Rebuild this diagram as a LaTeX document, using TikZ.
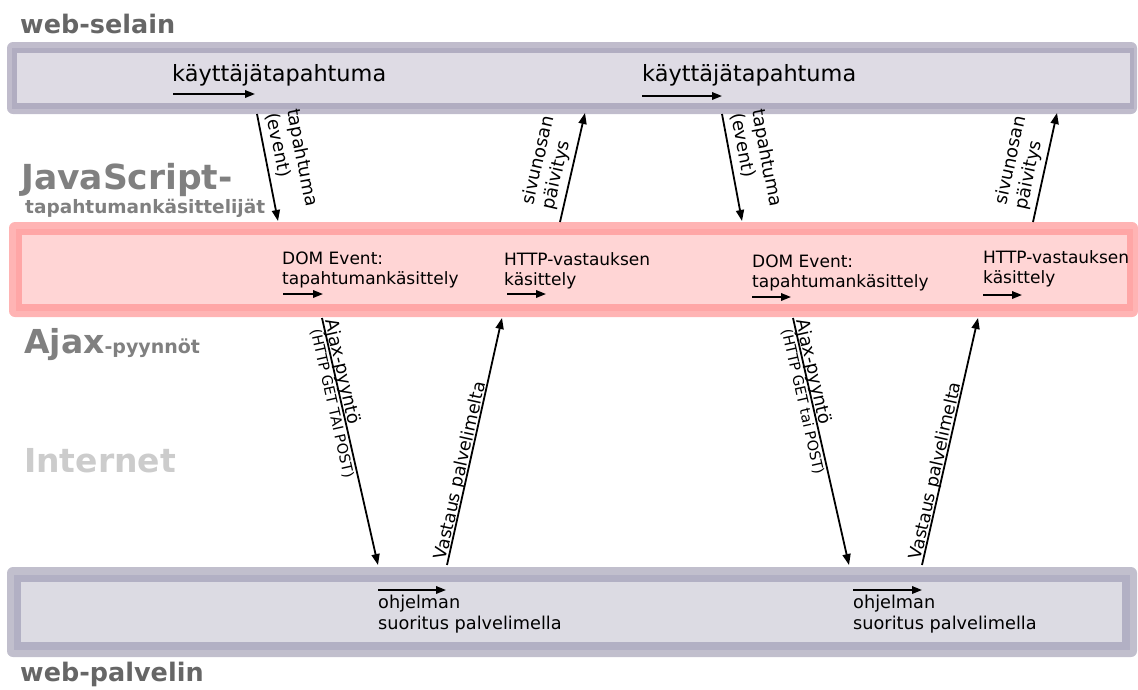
\documentclass[tikz,border=0pt]{standalone}
\usepackage{fontspec}
\setmainfont{DejaVu Sans}
\usetikzlibrary{arrows.meta}
\definecolor{selOuter}{HTML}{C0BCCC}
\definecolor{selBand}{HTML}{B1ADC1}
\definecolor{selFill}{HTML}{DEDBE4}
\definecolor{redOuter}{HTML}{FFB4B4}
\definecolor{redBand}{HTML}{FFA6A6}
\definecolor{redFill}{HTML}{FFD5D5}
\definecolor{srvOuter}{HTML}{C1BFCD}
\definecolor{srvBand}{HTML}{B2B0C4}
\definecolor{srvFill}{HTML}{DCDBE3}
\definecolor{headDark}{HTML}{666666}
\definecolor{headMid}{HTML}{808080}
\definecolor{headLight}{HTML}{CCCCCC}
\newcommand\myfs[2]{\fontsize{#1pt}{#2pt}\selectfont}
\begin{document}
\begin{tikzpicture}[x=1pt,y=-1pt,
  arr/.style={line width=1.8pt,-{Triangle[length=11pt,width=8pt]}},
  tarr/.style={line width=1.8pt,-{Triangle[length=10pt,width=7.5pt]}},
  head/.style={anchor=base west,inner sep=0pt},
  txt/.style={anchor=north west,inner sep=0pt,align=left,font=\myfs{17}{20}},
  lbl/.style={sloped,pos=0,align=left,font=\myfs{18}{21}},
  onl/.style={sloped,pos=0,anchor=base west,inner ysep=0pt}
]
\useasboundingbox (0,0) rectangle (1138,689);

% ---- web-selain box
\fill[selOuter,rounded corners=6pt] (7,42) rectangle (1137,114);
\fill[selBand] (12,47.5) rectangle (1133.5,108.5);
\fill[selFill] (17,53) rectangle (1130,103);
% ---- JavaScript box
\fill[redOuter,rounded corners=6pt] (9,222) rectangle (1138,317);
\fill[redBand] (15.5,228.5) rectangle (1132.5,310.5);
\fill[redFill] (22,235) rectangle (1127,304);
% ---- web-palvelin box
\fill[srvOuter,rounded corners=6pt] (7,567) rectangle (1137,657);
\fill[srvBand] (14,574.5) rectangle (1129.5,649.5);
\fill[srvFill] (21,582) rectangle (1122,642);

% ---- headings
\node[head,text=headDark,font={\myfs{25.5}{30}\bfseries}] (hsel) at (20,33) {web-selain};
\node[head,text=headMid,font={\myfs{34.5}{40}\bfseries}] (hjs) at (21,189) {JavaScript-};
\node[head,text=headMid,font={\myfs{18.5}{22}\bfseries}] (hjs2) at (25,213) {tapahtumankäsittelijät};
\node[head,text=headMid,font=\bfseries] (hajax) at (24,353) {{\myfs{33}{38}Ajax}{\myfs{19}{22}-pyynnöt}};
\node[head,text=headLight,font={\myfs{33}{38}\bfseries}] (hnet) at (24,472) {Internet};
\node[head,text=headDark,font={\myfs{25.5}{30}\bfseries}] (hsrv) at (20,681) {web-palvelin};

% ---- texts in boxes
\node[anchor=north west,inner sep=0pt,font=\myfs{22.4}{26}] (ut1) at (172,64) {käyttäjätapahtuma};
\node[anchor=north west,inner sep=0pt,font=\myfs{22.4}{26}] (ut2) at (642,64) {käyttäjätapahtuma};
\node[txt] (dom1) at (282,252) {DOM Event:\\tapahtumankäsittely};
\node[txt] (http1) at (504,252) {HTTP-vastauksen\\käsittely};
\node[txt] (dom2) at (752,255) {DOM Event:\\tapahtumankäsittely};
\node[txt] (http2) at (983,250) {HTTP-vastauksen\\käsittely};
\node[txt,font=\myfs{17.7}{21}] (srv1) at (378,594.5) {ohjelman\\suoritus palvelimella};
\node[txt,font=\myfs{17.7}{21}] (srv2) at (853,594.5) {ohjelman\\suoritus palvelimella};

% ---- time arrows
\coordinate (t1a) at (173,94);  \coordinate (t1b) at (255,94);
\coordinate (t2a) at (642,96);  \coordinate (t2b) at (722,96);
\coordinate (t3a) at (283,294); \coordinate (t3b) at (323,294);
\coordinate (t4a) at (507,294); \coordinate (t4b) at (546,294);
\coordinate (t5a) at (752,297); \coordinate (t5b) at (791,297);
\coordinate (t6a) at (983,295); \coordinate (t6b) at (1022,295);
\coordinate (t7a) at (378,590); \coordinate (t7b) at (446,590);
\coordinate (t8a) at (853,590); \coordinate (t8b) at (922,590);
\foreach \i in {1,...,8} {\draw[tarr] (t\i a) -- (t\i b);}

% ---- message arrows
\coordinate (e1s) at (257,114); \coordinate (e1e) at (278,221);
\coordinate (e2s) at (722,114); \coordinate (e2e) at (742,221);
\coordinate (p1s) at (560,222); \coordinate (p1e) at (585,113);
\coordinate (p2s) at (1033,222); \coordinate (p2e) at (1057,113);
\coordinate (j1s) at (322,318); \coordinate (j1e) at (378,565);
\coordinate (j2s) at (793,318); \coordinate (j2e) at (849,565);
\coordinate (v1s) at (447,565); \coordinate (v1e) at (502,318);
\coordinate (v2s) at (922,565); \coordinate (v2e) at (978,318);

\draw[arr] (e1s) -- (e1e) node[lbl,anchor=south west,inner xsep=1pt,inner ysep=6pt] {tapahtuma\\(event)};
\draw[arr] (e2s) -- (e2e) node[lbl,anchor=south west,inner xsep=1pt,inner ysep=6pt] {tapahtuma\\(event)};
\draw[arr] (p1s) -- (p1e) node[lbl,anchor=south west,inner xsep=9pt,inner ysep=4pt] {sivunosan\\päivitys};
\draw[arr] (p2s) -- (p2e) node[lbl,anchor=south west,inner xsep=9pt,inner ysep=4pt] {sivunosan\\päivitys};

\draw[arr] (j1s) -- (j1e)
  node[onl,inner xsep=2pt,font=\myfs{18}{21}] {\raisebox{2.5pt}{Ajax-pyyntö}}
  node[sloped,pos=0,anchor=north west,inner xsep=9pt,inner ysep=2pt,font=\myfs{14.5}{17}] {(HTTP GET TAI POST)};
\draw[arr] (j2s) -- (j2e)
  node[onl,inner xsep=2pt,font=\myfs{18}{21}] {\raisebox{2.5pt}{Ajax-pyyntö}}
  node[sloped,pos=0,anchor=north west,inner xsep=9pt,inner ysep=2pt,font=\myfs{14.5}{17}] {(HTTP GET tai POST)};
\draw[arr] (v1s) -- (v1e)
  node[onl,inner xsep=3pt,font=\myfs{17.5}{21}] {\raisebox{2pt}{Vastaus palvelimelta}};
\draw[arr] (v2s) -- (v2e)
  node[onl,inner xsep=3pt,font=\myfs{17.5}{21}] {\raisebox{2pt}{Vastaus palvelimelta}};
\end{tikzpicture}
\end{document}
